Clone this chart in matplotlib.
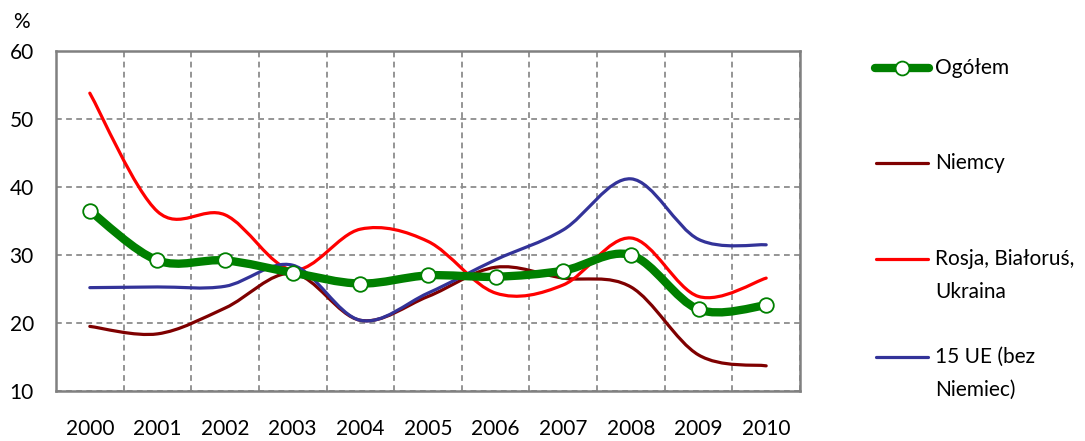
import numpy as np
import matplotlib
matplotlib.use("Agg")
import matplotlib.pyplot as plt
from matplotlib.path import Path
from matplotlib.patches import PathPatch
from matplotlib.lines import Line2D

years = ["2000", "2001", "2002", "2003", "2004", "2005", "2006", "2007", "2008", "2009", "2010"]
ogolem = [36.5, 29.2, 29.2, 27.4, 25.8, 27.0, 26.8, 27.7, 30.0, 22.0, 22.6]
niemcy = [19.5, 18.4, 22.2, 27.3, 20.4, 23.9, 28.2, 26.6, 25.3, 15.3, 13.7]
rosja = [53.8, 36.4, 35.9, 27.8, 33.8, 32.0, 24.4, 25.6, 32.5, 23.9, 26.6]
ue15 = [25.2, 25.3, 25.4, 28.5, 20.4, 24.4, 29.3, 33.7, 41.2, 32.3, 31.5]

labels = ["Ogółem", "Niemcy", "Rosja, Białoruś,\nUkraina", "15 UE (bez\nNiemiec)"]
colors = ["#008000", "#7f0000", "#ff0000", "#333399"]

plt.rcParams['font.family'] = ['Lato', 'DejaVu Sans']
FS = 15

fig = plt.figure(figsize=(10.85, 4.41), dpi=100)
ax = fig.add_axes([56/1085, 1-391/441, (800-56)/1085, (391-51)/441])

x = np.arange(len(years))


def smooth_path(xs, ys):
    pts = np.column_stack([xs, ys]).astype(float)
    n = len(pts)
    verts = [pts[0]]
    codes = [Path.MOVETO]
    for i in range(n - 1):
        p0 = pts[i - 1] if i > 0 else pts[i]
        p1 = pts[i]
        p2 = pts[i + 1]
        p3 = pts[i + 2] if i + 2 < n else pts[i + 1]
        c1 = p1 + (p2 - p0) / 6.0
        c2 = p2 - (p3 - p1) / 6.0
        verts += [c1, c2, p2]
        codes += [Path.CURVE4] * 3
    return Path(verts, codes)


series = [niemcy, rosja, ue15]
for vals, col in zip(series, colors[1:]):
    ax.add_patch(PathPatch(smooth_path(x, vals), fill=False, edgecolor=col,
                           lw=2.3, capstyle='round', joinstyle='round', zorder=3))

ax.add_patch(PathPatch(smooth_path(x, ogolem), fill=False, edgecolor=colors[0],
                       lw=6, capstyle='round', joinstyle='round', zorder=4))
ax.plot(x, ogolem, linestyle='none', marker='o', markersize=10.5,
        markerfacecolor='white', markeredgecolor=colors[0], markeredgewidth=1.3, zorder=5)

ax.set_xlim(-0.5, len(years) - 0.5)
ax.set_ylim(10, 60)
ax.set_yticks([10, 20, 30, 40, 50, 60])
ax.set_xticks(x)
ax.set_xticklabels(years)
ax.set_xticks(np.arange(len(years) + 1) - 0.5, minor=True)
ax.tick_params(axis='both', which='both', length=0, labelsize=FS, colors='black')
ax.tick_params(axis='x', pad=20)
ax.tick_params(axis='y', pad=16)
ax.grid(True, axis='y', which='major', color='#8c8c8c', linestyle=(0, (3.2, 2.4)), lw=1.3)
ax.grid(True, axis='x', which='minor', color='#8c8c8c', linestyle=(0, (3.2, 2.4)), lw=1.3)
ax.grid(False, axis='x', which='major')
for s in ax.spines.values():
    s.set_color('#808080')
    s.set_linewidth(1.8)

fig.text(21/1085, 1-22/441, "%", fontsize=FS, ha='center', va='center')

# legend
leg_y = [68, 163, 259, 357]
for i, (lab, col, yy) in enumerate(zip(labels, colors, leg_y)):
    yf = 1 - yy/441
    if i == 0:
        fig.add_artist(Line2D([875/1085, 929/1085], [yf, yf], transform=fig.transFigure,
                              color=col, lw=6, solid_capstyle='round'))
        fig.add_artist(Line2D([902/1085], [yf], transform=fig.transFigure, color=col,
                              marker='o', markersize=10, markerfacecolor='white',
                              markeredgewidth=1.3, linestyle='none'))
    else:
        fig.add_artist(Line2D([876/1085, 928/1085], [yf, yf], transform=fig.transFigure,
                              color=col, lw=2.3, solid_capstyle='round'))
    for k, ln in enumerate(lab.split('\n')):
        fig.text(935/1085, 1 - (yy + 33*k)/441, ln, fontsize=FS, ha='left', va='center')

fig.savefig("out.png", dpi=100)
